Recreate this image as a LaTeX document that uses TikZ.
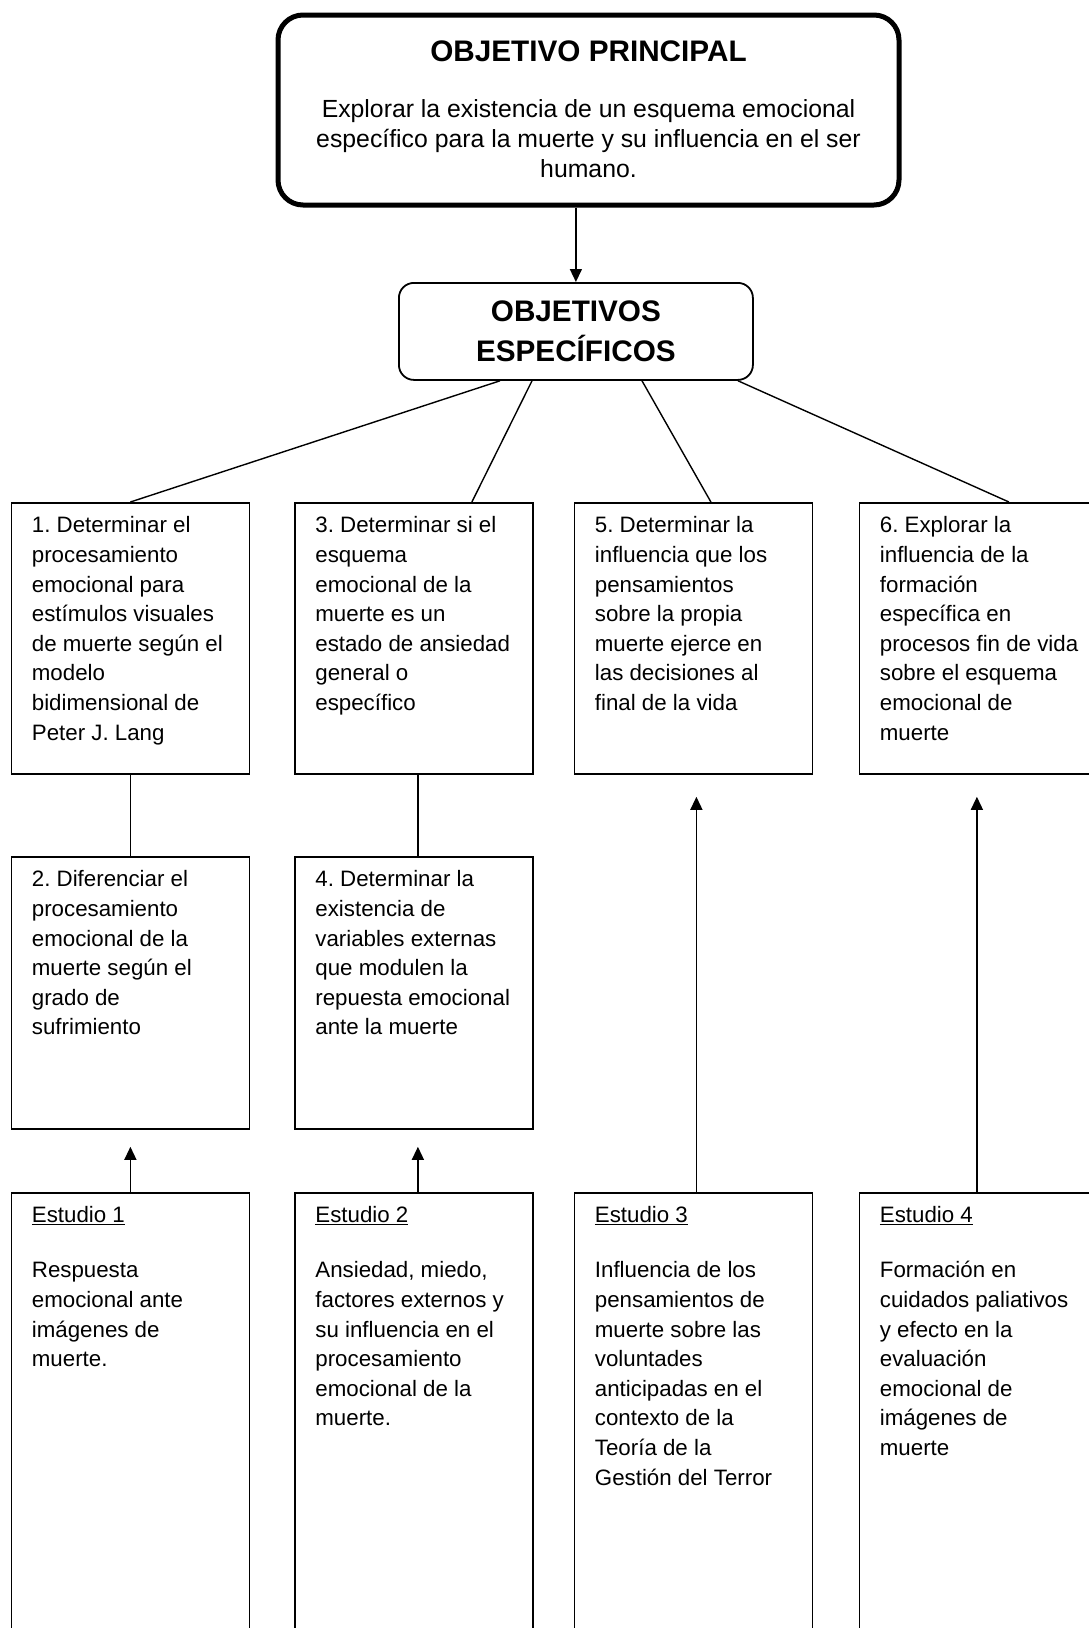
\documentclass[tikz,border=0pt]{standalone}
\usepackage{fontspec}
\setmainfont{Liberation Sans}
\usetikzlibrary{arrows.meta}
\frenchspacing
\newcommand{\bxtext}[2]{\parbox[t][#1][t]{238pt}{\frenchspacing\leftskip=20.5pt\rightskip=0pt plus 1fil\parfillskip=0pt plus 1fil\parindent=0pt\rule{0pt}{30pt}#2}}
\begin{document}
\begin{tikzpicture}[x=1pt,y=-1pt,
  box/.style={draw, line width=1.8pt, inner sep=0pt, anchor=north west, font=\fontsize{22.3}{29.6}\selectfont},
  conn/.style={line width=1.4pt},
  arr/.style={line width=1.4pt, -{Triangle[length=13pt,width=12pt]}}]
\useasboundingbox (0,0) rectangle (1089,1628);
\clip (0,0) rectangle (1089,1628);
% main objective
\node[draw, line width=5pt, rounded corners=25pt, inner sep=0pt, anchor=north west,
  font=\fontsize{24.8}{30}\selectfont] (top) at (275.5,12.5)
  {\parbox[t][190pt][t]{621pt}{\centering\frenchspacing\rule{0pt}{46pt}{\bfseries\fontsize{29.7}{30}\selectfont OBJETIVO PRINCIPAL}\\[26pt]Explorar la existencia de un esquema emocional\\específico para la muerte y su influencia en el ser\\humano.}};
% specific objectives
\node[draw, line width=1.8pt, rounded corners=15pt, anchor=north west, minimum width=354pt, minimum height=97pt,
  align=center, font=\bfseries\fontsize{29.7}{40}\selectfont] (obj) at (398,282) {OBJETIVOS\\ESPECÍFICOS};
% row 1
\node[box] (b1) at (10.5,502) {\bxtext{271pt}{1. Determinar el\\procesamiento\\emocional para\\estímulos visuales\\de muerte según el\\modelo\\bidimensional de\\Peter J. Lang}};
\node[box] (b3) at (294,502) {\bxtext{271pt}{3. Determinar si el\\esquema\\emocional de la\\muerte es un\\estado de ansiedad\\general o\\específico}};
\node[box] (b5) at (573.5,502) {\bxtext{271pt}{5. Determinar la\\influencia que los\\pensamientos\\sobre la propia\\muerte ejerce en\\las decisiones al\\final de la vida}};
\node[box] (b6) at (858.5,502) {\bxtext{271pt}{6. Explorar la\\influencia de la\\formación\\específica en\\procesos fin de vida\\sobre el esquema\\emocional de\\muerte}};
% row 2
\node[box] (b2) at (10.5,856) {\bxtext{272pt}{2. Diferenciar el\\procesamiento\\emocional de la\\muerte según el\\grado de\\sufrimiento}};
\node[box] (b4) at (294,856) {\bxtext{272pt}{4. Determinar la\\existencia de\\variables externas\\que modulen la\\repuesta emocional\\ante la muerte}};
% row 3 (studies)
\node[box] (e1) at (10.5,1192) {\bxtext{520pt}{\underline{Estudio 1}\\[25.4pt]Respuesta\\emocional ante\\imágenes de\\muerte.}};
\node[box] (e2) at (294,1192) {\bxtext{520pt}{\underline{Estudio 2}\\[25.4pt]Ansiedad, miedo,\\factores externos y\\su influencia en el\\procesamiento\\emocional de la\\muerte.}};
\node[box] (e3) at (573.5,1192) {\bxtext{520pt}{\underline{Estudio 3}\\[25.4pt]Influencia de los\\pensamientos de\\muerte sobre las\\voluntades\\anticipadas en el\\contexto de la\\Teoría de la\\Gestión del Terror}};
\node[box] (e4) at (858.5,1192) {\bxtext{520pt}{\underline{Estudio 4}\\[25.4pt]Formación en\\cuidados paliativos\\y efecto en la\\evaluación\\emocional de\\imágenes de\\muerte}};
% connectors
\draw[arr] (obj.north |- top.south) -- (obj.north);
\draw[conn] ([xshift=102pt]obj.south west) -- (b1.north);
\draw[conn] ([xshift=134pt]obj.south west) -- ([xshift=58pt]b3.north);
\draw[conn] ([xshift=244pt]obj.south west) -- ([xshift=17.5pt]b5.north);
\draw[conn] ([xshift=340pt]obj.south west) -- ([xshift=30.5pt]b6.north);
\draw[conn] (b1.south) -- (b2.north);
\draw[conn] ([xshift=4pt]b3.south) -- ([xshift=4pt]b4.north);
\draw[arr, shorten >=17pt] (e1.north) -- (b2.south);
\draw[arr, shorten >=17pt] ([xshift=4pt]e2.north) -- ([xshift=4pt]b4.south);
\draw[arr, shorten >=22pt] ([xshift=3pt]e3.north) -- ([xshift=3pt]b5.south);
\draw[arr, shorten >=22pt] ([xshift=-1.5pt]e4.north) -- ([xshift=-1.5pt]b6.south);
\end{tikzpicture}
\end{document}
